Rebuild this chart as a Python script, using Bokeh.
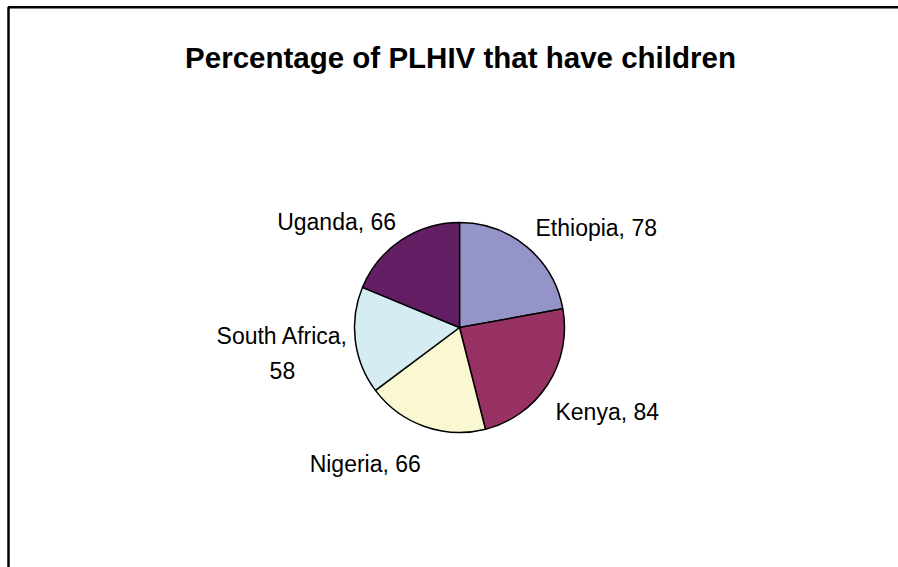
import math
from bokeh.plotting import figure
from bokeh.models import Range1d, ColumnDataSource
from bokeh.embed import file_html
from bokeh.resources import INLINE
from bokeh.core.properties import value

# ---- data ----
countries = ["Ethiopia", "Kenya", "Nigeria", "South Africa", "Uganda"]
percent = [78, 84, 66, 58, 66]
title_text = "Percentage of PLHIV that have children"

# ---- style / layout ----
colors = ["#9494C8", "#983264", "#FAF8D2", "#D5ECF3", "#641E64"]
W, H = 898, 567
FONT = "Liberation Sans"
cx, cy = 459, H - 327          # pie centre (data units == pixels)
R = 105                         # pie radius
label_gap = 10
# label nudges in screen px (x right, y down), relative to the mid-angle anchor
label_nudge = [(63, -11), (51, 22), (-56, 28), (-63, -6), (-59, -10)]
line_step = 35

p = figure(width=W, height=H, output_backend="svg", toolbar_location=None,
           x_range=Range1d(0, W), y_range=Range1d(0, H), min_border=0,
           background_fill_color="white", border_fill_color="white")
p.axis.visible = False
p.grid.visible = False
p.outline_line_color = None

# ---- wedges ----
total = float(sum(percent))
starts, ends, mids = [], [], []
acc = 0.0
for v in percent:
    a0 = acc / total * 2 * math.pi
    acc += v
    a1 = acc / total * 2 * math.pi
    starts.append(math.pi / 2 - a0)
    ends.append(math.pi / 2 - a1)
    mids.append((a0 + a1) / 2)   # clockwise from 12 o'clock

src = ColumnDataSource(dict(x=[cx] * len(percent), y=[cy] * len(percent),
                            start=starts, end=ends, color=colors))
p.wedge(x="x", y="y", radius=R, start_angle="start", end_angle="end",
        direction="clock", fill_color="color", line_color="black",
        line_width=1.5, source=src)

# ---- labels ----
lx, ly, lt = [], [], []
for name, v, m, (dx, dy) in zip(countries, percent, mids, label_nudge):
    text = f"{name}, {v}"
    lines = [text] if len(text) <= 13 else [f"{name},", f"{v}"]
    ax = cx + (R + label_gap) * math.sin(m) + dx
    ay = cy + (R + label_gap) * math.cos(m) - dy
    for i, ln in enumerate(lines):
        lx.append(ax)
        ly.append(ay - i * line_step)
        lt.append(ln)

p.text(x=lx, y=ly, text=lt, text_font=value(FONT), text_font_size="23px",
       text_align="center", text_baseline="alphabetic", text_color="black")

# ---- title ----
p.text(x=[460], y=[H - 57], text=[title_text], text_font=value(FONT),
       text_font_size="29.5px", text_font_style="bold", text_align="center",
       text_baseline="alphabetic", text_color="black")

# ---- chart-area border (left and top edges visible) ----
p.line(x=[W, 8, 8], y=[H - 6.7, H - 6.7, 0], line_color="black", line_width=2.5)

open("out.html", "w").write(file_html(p, INLINE))
